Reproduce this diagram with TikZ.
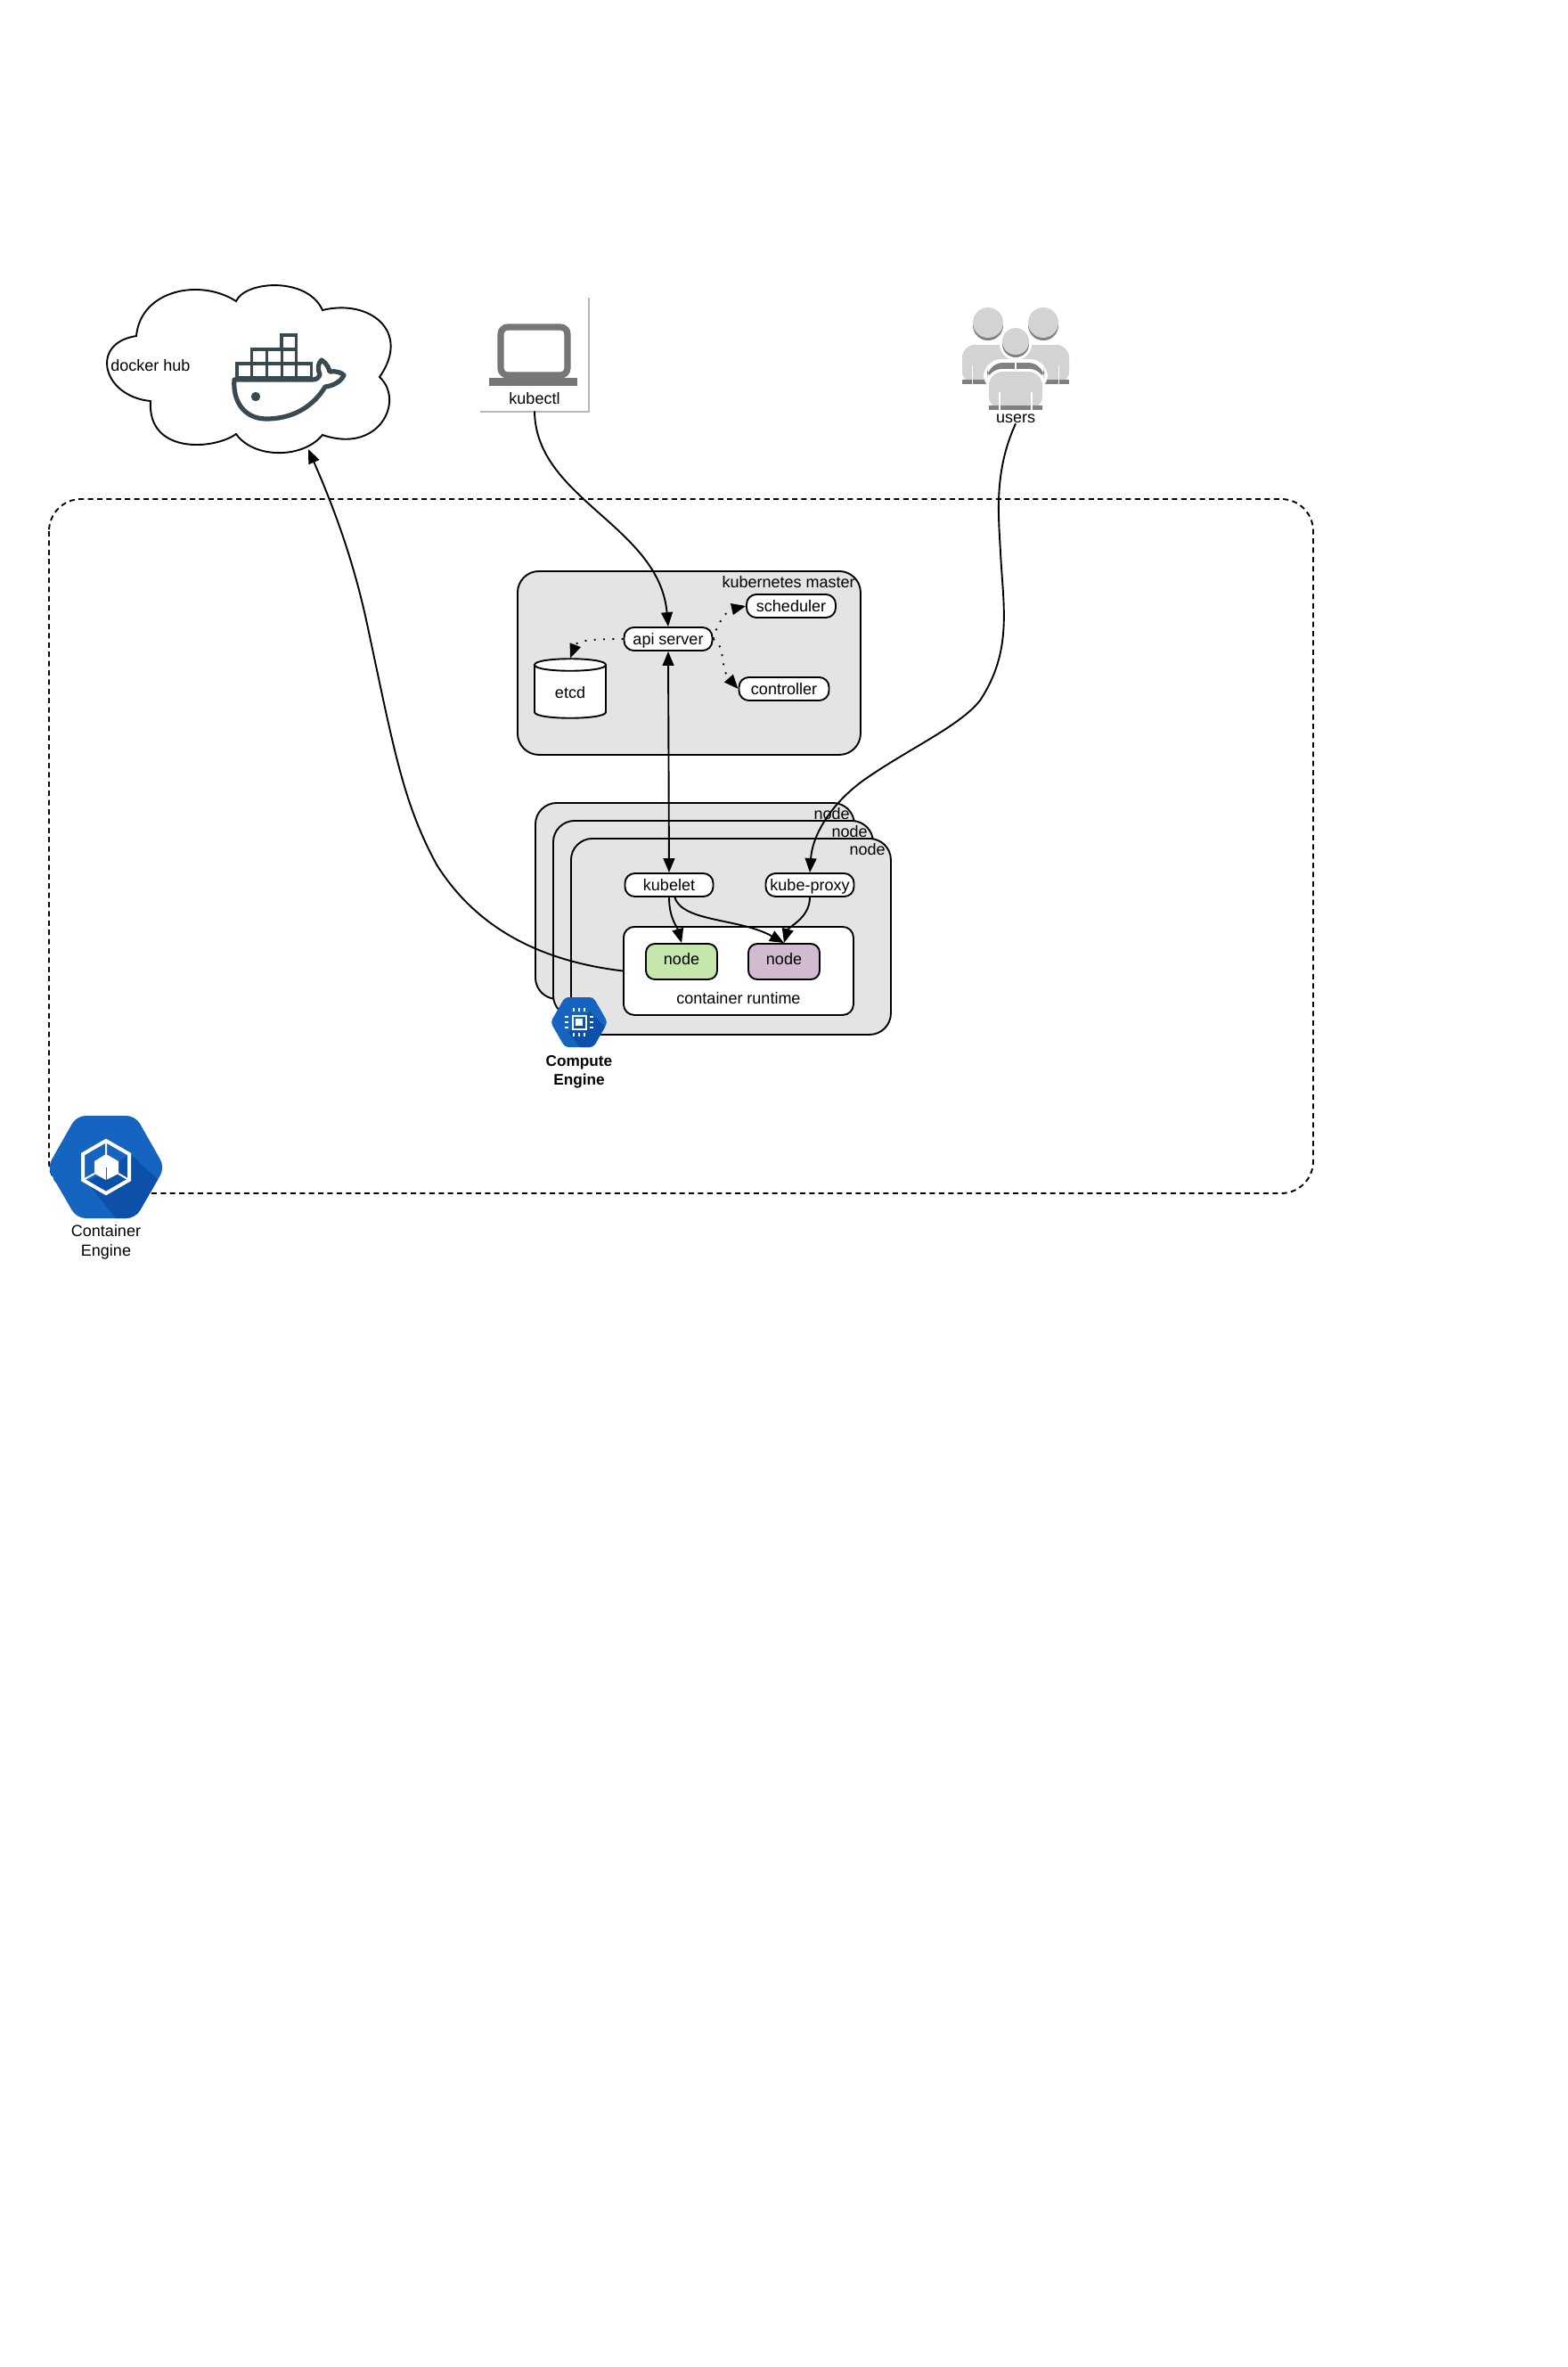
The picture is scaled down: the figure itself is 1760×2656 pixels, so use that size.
\documentclass[tikz,border=0pt]{standalone}
\usepackage{fontspec}
\setmainfont{Liberation Sans}
\usetikzlibrary{arrows.meta}

\begin{document}
\begin{tikzpicture}[x = 0.5pt, y = -0.5pt]
\tikzstyle{panel}=[draw, fill = panelgray, line width = 0.95pt, rounded corners = 12pt, inner sep = 0pt, anchor = north west]
\tikzstyle{pill}=[draw, fill = white, line width = 0.95pt, rounded corners = 5.5pt, minimum width = 49.5pt, minimum height = 13pt, inner sep = 0pt, text height = 8pt, text depth = 2pt, font = \fontsize{9}{11}\selectfont]
\tikzstyle{pod}=[draw, line width = 0.95pt, rounded corners = 5pt, minimum width = 40pt, minimum height = 20pt, inner sep = 0pt, text height = 5.4pt, text depth = 2pt, font = \fontsize{9}{11}\selectfont]
\tikzstyle{tag}=[inner sep = 0pt, font = \fontsize{9}{11}\selectfont]
\tikzstyle{wire}=[line width = 0.95pt, -{Triangle[length = 8pt, width = 6.4pt]}]
\tikzstyle{dotwire}=[wire, dash pattern = on 0.95pt off 4.2pt]
\definecolor{panelgray}{HTML}{E4E4E4}
\definecolor{podgreen}{HTML}{C6E7AB}
\definecolor{podpurple}{HTML}{D1BBD0}
\definecolor{whale}{HTML}{394950}
\definecolor{laptop}{HTML}{767676}
\definecolor{edgegray}{HTML}{B8B8B8}
\definecolor{bodylight}{HTML}{D2D4D4}
\definecolor{bodydark}{HTML}{808080}
\definecolor{hexblue}{HTML}{1565C0}
\definecolor{hexdark}{HTML}{0D50AA}
\useasboundingbox (0,0) rectangle (1760,2656);
\fill[white] (0,0) rectangle (1760,2656);

\draw[line width = 0.95pt, dash pattern = on 3pt off 2.2pt, rounded corners = 18pt] (55,560) rectangle (1474,1339);

\draw[line width = 0.95pt] (153,377) .. controls (158,325) and (225,312) .. (265,338) .. controls (275,315) and (345,310) .. (362,348) .. controls (415,335) and (462,372) .. (426,423) .. controls (455,450) and (425,510) .. (362,488) .. controls (340,515) and (285,515) .. (265,487) .. controls (240,505) and (165,510) .. (169,450) .. controls (115,445) and (100,385) .. (153,377) -- cycle;
\node[tag] (hublabel) at (169,410) {docker hub};
\coordinate (hub) at (346,504);
\foreach \i in {0,...,4} \draw[whale, line width = 1.6pt] (266+16.7*\i,408) rectangle ++(16.7,16);
\foreach \i in {1,...,3} \draw[whale, line width = 1.6pt] (266+16.7*\i,392) rectangle ++(16.7,16);
\draw[whale, line width = 1.6pt] (316,376) rectangle ++(16.7,16);
\draw[whale, line width = 2.6pt, line join = round] (263,426) -- (351,426) .. controls (355,426) and (358,424) .. (359,420) .. controls (356,413) and (357,408) .. (361,404) .. controls (367,408) and (369,413) .. (370,417) .. controls (377,416) and (383,418) .. (386,421) .. controls (383,428) and (374,433) .. (365,434) .. controls (349,460) and (324,470) .. (299,470) .. controls (274,470) and (261,450) .. (263,426) -- cycle;
\fill[whale] (287,445) circle (2.6pt);

\draw[edgegray, line width = 0.7pt] (539,462) -- (661,462) -- (661,334);
\draw[laptop, line width = 3.6pt, rounded corners = 4pt] (562,367) rectangle (637,421);
\fill[laptop] (549,424) rectangle (648,433);
\node[tag, minimum height = 14pt] (kubectl) at (600,447) {kubectl};

\foreach \hx in {1109,1171} {
\fill[bodydark] (\hx,365) circle (8.5pt);
\fill[bodylight] (\hx,362) circle (8.5pt);
}
\fill[bodylight, rounded corners = 7pt] (1080,431) -- (1080,387) -- (1200,387) -- (1200,431) -- cycle;
\fill[bodydark] (1080,426) rectangle (1200,431);
\fill[white] (1091,410) rectangle (1092,431);
\fill[white] (1188,410) rectangle (1189,431);
\fill[white, rounded corners = 10pt] (1104,440) -- (1104,403) -- (1176,403) -- (1176,440) -- cycle;
\fill[bodydark, rounded corners = 9pt] (1108,430) -- (1108,407) -- (1172,407) -- (1172,430) -- cycle;
\fill[white] (1139,400) rectangle (1141,415);
\fill[white, rounded corners = 9pt] (1107,462) -- (1107,414) -- (1173,414) -- (1173,462) -- cycle;
\fill[bodylight, rounded corners = 8pt] (1110,460) -- (1110,417) -- (1170,417) -- (1170,460) -- cycle;
\fill[bodydark] (1110,455) rectangle (1170,460);
\fill[white] (1121,440) rectangle (1123,460);
\fill[white] (1157,440) rectangle (1159,460);
\fill[white] (1140,386) circle (9pt);
\fill[bodydark] (1140,386) circle (7.5pt);
\fill[bodylight] (1140,383) circle (7.5pt);
\node[tag] (users) at (1140,470) {users};

\node[panel, minimum width = 192.5pt, minimum height = 103pt] (master) at (580,640) {};
\node[tag, anchor = north east] (masterlabel) at (960,646) {kubernetes master};
\node[pill] (api) at (750,717) {api server};
\node[pill, minimum width = 50pt] (scheduler) at (888,680) {scheduler};
\node[pill, minimum width = 50.5pt] (controller) at (880,773) {controller};
\node[minimum width = 40pt, minimum height = 33.5pt, inner sep = 0pt] (etcd) at (640,772.5) {};
\draw[fill = white, line width = 0.95pt] (600,746) -- (600,799) .. controls (600,808) and (680,808) .. (680,799) -- (680,746) .. controls (680,737) and (600,737) .. (600,746) .. controls (600,755) and (680,755) .. (680,746);
\node[tag] (etcdlabel) at (640,777) {etcd};

\node[panel, minimum width = 179pt, minimum height = 110pt] (worker1) at (600,900) {};
\node[tag, anchor = north east] (label1) at (954,906) {node};
\node[panel, minimum width = 179.5pt, minimum height = 110pt] (worker2) at (620,920) {};
\node[tag, anchor = north east] (label2) at (974,926) {node};
\node[panel, minimum width = 179.5pt, minimum height = 110pt] (worker3) at (640,940) {};
\node[tag, anchor = north east] (label3) at (994,946) {node};
\node[pill] (kubelet) at (751,993) {kubelet};
\node[pill] (proxy) at (909,993) {kube-proxy};
\node[draw, fill = white, line width = 0.95pt, rounded corners = 6pt, minimum width = 129pt, minimum height = 49.5pt, inner sep = 0pt, anchor = north west] (runtime) at (699,1039) {};
\node[tag] (runtimelabel) at (829,1120) {container runtime};
\node[pod, fill = podgreen] (pod1) at (765,1079) {node};
\node[pod, fill = podpurple] (pod2) at (880,1079) {node};

\begin{scope}
\clip[rounded corners = 2pt] (618,1147) -- (634,1119) -- (666,1119) -- (682,1147) -- (666,1175) -- (634,1175) -- cycle;
\fill[hexblue] (610,1110) rectangle (690,1185);
\fill[hexdark] (662,1135) -- (690,1163) -- (690,1185) -- (660,1185) -- (638,1159) -- cycle;
\end{scope}
\node[minimum size = 7.5pt, inner sep = 0pt, draw = white, line width = 1pt] (chip) at (650,1147) {};
\fill[white] (650,1147) +(-4,-4) rectangle +(4,4);
\foreach \d in {-6,0,6} {
\draw[white, line width = 0.7pt] (650+\d,1131) -- (650+\d,1135);
\draw[white, line width = 0.7pt] (650+\d,1159) -- (650+\d,1163);
\draw[white, line width = 0.7pt] (634,1147+\d) -- (638,1147+\d);
\draw[white, line width = 0.7pt] (662,1147+\d) -- (666,1147+\d);
}
\node[tag, font = \fontsize{8.6}{10.5}\selectfont\bfseries, align = center] (compute) at (650,1202.5) {Compute\\Engine};

\begin{scope}
\clip[rounded corners = 5pt] (53,1310) -- (86,1252) -- (152,1252) -- (185,1310) -- (152,1367) -- (86,1367) -- cycle;
\fill[hexblue] (40,1240) rectangle (200,1380);
\fill[hexdark] (146,1295) -- (190,1335) -- (190,1380) -- (140,1380) -- (98,1327) -- cycle;
\end{scope}
\draw[white, line width = 2pt, line join = miter] (119,1280) -- (145,1295) -- (145,1324) -- (119,1339) -- (93,1324) -- (93,1295) -- cycle;
\draw[white, line width = 1pt] (119,1280) -- (119,1295) (93,1324) -- (106,1317) (145,1324) -- (133,1317);
\fill[white] (119,1295) -- (133,1303) -- (133,1317) -- (119,1324) -- (106,1317) -- (106,1303) -- cycle;
\draw[hexblue, line width = 0.5pt] (119,1310) -- (119,1324);
\node[tag, align = center] (container) at (119,1394) {Container\\Engine};

\draw[wire] (kubectl.south) .. controls (601,560) and (740,590) .. (api.north);
\draw[wire, {Triangle[length = 8pt, width = 6.4pt]}-{Triangle[length = 8pt, width = 6.4pt]}] (api.south) -- (kubelet.north);
\draw[wire] (users.south) .. controls (1115,530) and (1121,580) .. (1123,620) .. controls (1126,680) and (1137,730) .. (1100,786) .. controls (1077,815) and (1020,840) .. (970,875) .. controls (935,900) and (912,935) .. (proxy.north);
\draw[wire] (runtime.west) .. controls (620,1080) and (540,1050) .. (490,970) .. controls (452,900) and (442,840) .. (412,700) .. controls (397,630) and (375,570) .. (hub);
\draw[dotwire] (api.west) .. controls (670,717) and (648,718) .. (etcd.north);
\draw[dotwire] (api.east) .. controls (805,700) and (815,685) .. (scheduler.west);
\draw[dotwire] (api.east) .. controls (815,725) and (808,750) .. (controller.west);
\draw[wire] (kubelet.south) .. controls (751,1030) and (760,1040) .. (pod1.north);
\draw[wire] (757,1006) .. controls (765,1035) and (830,1030) .. (pod2.north);
\draw[wire] (proxy.south) .. controls (909,1030) and (885,1040) .. (pod2.north);
\end{tikzpicture}
\end{document}
